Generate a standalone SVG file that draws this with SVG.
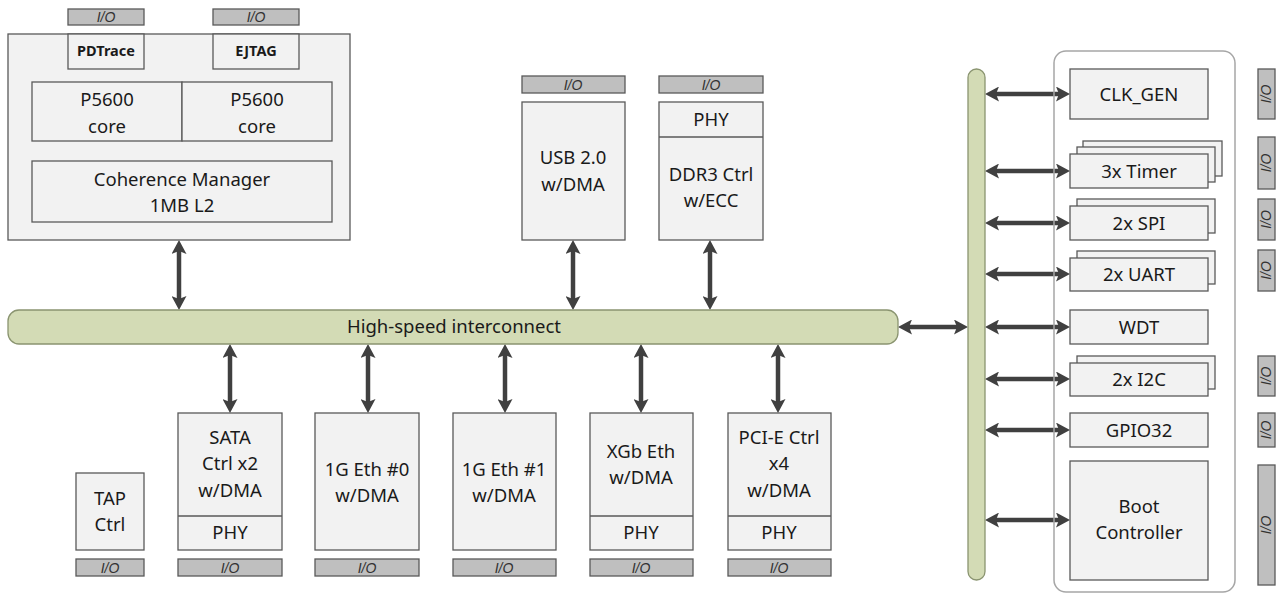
<svg xmlns="http://www.w3.org/2000/svg" width="1279" height="594" viewBox="0 0 1279 594">
<defs>
<style>
.box{fill:#f2f2f2;stroke:#595959;stroke-width:1.3}
.outer{fill:#f2f2f2;stroke:#595959;stroke-width:1.3}
.io{fill:#bfbfbf;stroke:#595959;stroke-width:1.3}
.bus{fill:#d3dbb5;stroke:#8a9470;stroke-width:1.3}
.cont{fill:none;stroke:#a6a6a6;stroke-width:1.5}
.t{font-family:"Noto Sans","Open Sans",sans-serif;font-size:18.5px;fill:#1a1a1a;text-anchor:middle}
.b{font-family:"Noto Sans","Open Sans",sans-serif;font-size:14.5px;font-weight:bold;fill:#1a1a1a;text-anchor:middle}
.iot{font-family:"Liberation Sans","Open Sans",sans-serif;font-size:14px;font-style:italic;fill:#333;text-anchor:middle}
.ar{stroke:#404040;stroke-width:4.5;fill:none;marker-start:url(#ah);marker-end:url(#ah)}
</style>
<marker id="ah" markerUnits="userSpaceOnUse" viewBox="0 0 14 15" markerWidth="14" markerHeight="15" refX="5" refY="7.5" orient="auto-start-reverse">
<path d="M0,0 L14,7.5 L0,15 L3,7.5 z" fill="#404040"/>
</marker>
</defs>

<g id="connectors">
<line class="ar" x1="179" y1="249" x2="179" y2="301"/>
<line class="ar" x1="573" y1="249" x2="573" y2="301"/>
<line class="ar" x1="710" y1="249" x2="710" y2="301"/>
<line class="ar" x1="230" y1="353" x2="230" y2="404"/>
<line class="ar" x1="368" y1="353" x2="368" y2="404"/>
<line class="ar" x1="505" y1="353" x2="505" y2="404"/>
<line class="ar" x1="641" y1="353" x2="641" y2="404"/>
<line class="ar" x1="778" y1="353" x2="778" y2="404"/>
<line class="ar" x1="907" y1="327" x2="959" y2="327"/>
<line class="ar" x1="994" y1="94" x2="1061" y2="94"/>
<line class="ar" x1="994" y1="171" x2="1061" y2="171"/>
<line class="ar" x1="994" y1="223" x2="1061" y2="223"/>
<line class="ar" x1="994" y1="274" x2="1061" y2="274"/>
<line class="ar" x1="994" y1="327" x2="1061" y2="327"/>
<line class="ar" x1="994" y1="379" x2="1061" y2="379"/>
<line class="ar" x1="994" y1="430" x2="1061" y2="430"/>
<line class="ar" x1="994" y1="520" x2="1061" y2="520"/>
</g>

<g id="cpu-cluster">
<rect class="outer" x="8" y="34" width="342" height="206"/>
<rect class="io" x="68" y="9" width="76" height="16"/>
<text class="iot" x="106" y="22">I/O</text>
<rect class="io" x="213" y="9" width="86" height="16"/>
<text class="iot" x="256" y="22">I/O</text>
<rect class="box" x="68" y="34" width="76" height="35"/>
<text class="b" x="106" y="56">PDTrace</text>
<rect class="box" x="213" y="34" width="86" height="35"/>
<text class="b" x="256" y="56">EJTAG</text>
<rect class="box" x="32" y="82" width="150" height="59"/>
<text class="t" x="107" y="106">P5600</text>
<text class="t" x="107" y="133">core</text>
<rect class="box" x="182" y="82" width="150" height="59"/>
<text class="t" x="257" y="106">P5600</text>
<text class="t" x="257" y="133">core</text>
<rect class="box" x="32" y="161" width="300" height="61"/>
<text class="t" x="182" y="186">Coherence Manager</text>
<text class="t" x="182" y="212">1MB L2</text>
</g>

<g id="usb">
<rect class="io" x="522" y="76" width="103" height="17"/>
<text class="iot" x="573" y="90">I/O</text>
<rect class="box" x="522" y="102" width="103" height="138"/>
<text class="t" x="573" y="164">USB 2.0</text>
<text class="t" x="573" y="191">w/DMA</text>
</g>

<g id="ddr3">
<rect class="io" x="659" y="76" width="104" height="17"/>
<text class="iot" x="711" y="90">I/O</text>
<rect class="box" x="659" y="102" width="104" height="138"/>
<line x1="659" y1="137" x2="763" y2="137" stroke="#595959" stroke-width="1.3"/>
<text class="t" x="711" y="126">PHY</text>
<text class="t" x="711" y="181">DDR3 Ctrl</text>
<text class="t" x="711" y="207">w/ECC</text>
</g>

<g id="interconnect">
<rect class="bus" x="8" y="310" width="890" height="34" rx="11"/>
<text class="t" x="454" y="333">High-speed interconnect</text>
</g>

<g id="tap">
<rect class="box" x="76" y="473" width="68" height="77"/>
<text class="t" x="110" y="505">TAP</text>
<text class="t" x="110" y="531">Ctrl</text>
<rect class="io" x="76" y="559" width="68" height="17"/>
<text class="iot" x="110" y="573">I/O</text>
</g>

<g id="sata">
<rect class="box" x="178" y="413" width="104" height="137"/>
<line x1="178" y1="516" x2="282" y2="516" stroke="#595959" stroke-width="1.3"/>
<text class="t" x="230" y="444">SATA</text>
<text class="t" x="230" y="470">Ctrl x2</text>
<text class="t" x="230" y="497">w/DMA</text>
<text class="t" x="230" y="539">PHY</text>
<rect class="io" x="178" y="559" width="104" height="17"/>
<text class="iot" x="230" y="573">I/O</text>
</g>

<g id="eth0">
<rect class="box" x="315" y="413" width="104" height="137"/>
<text class="t" x="367" y="476">1G Eth #0</text>
<text class="t" x="367" y="502">w/DMA</text>
<rect class="io" x="315" y="559" width="104" height="17"/>
<text class="iot" x="367" y="573">I/O</text>
</g>

<g id="eth1">
<rect class="box" x="453" y="413" width="103" height="137"/>
<text class="t" x="504" y="476">1G Eth #1</text>
<text class="t" x="504" y="502">w/DMA</text>
<rect class="io" x="453" y="559" width="103" height="17"/>
<text class="iot" x="504" y="573">I/O</text>
</g>

<g id="xgb">
<rect class="box" x="590" y="413" width="103" height="137"/>
<line x1="590" y1="516" x2="693" y2="516" stroke="#595959" stroke-width="1.3"/>
<text class="t" x="641" y="458">XGb Eth</text>
<text class="t" x="641" y="484">w/DMA</text>
<text class="t" x="641" y="539">PHY</text>
<rect class="io" x="590" y="559" width="103" height="17"/>
<text class="iot" x="641" y="573">I/O</text>
</g>

<g id="pcie">
<rect class="box" x="728" y="413" width="103" height="137"/>
<line x1="728" y1="516" x2="831" y2="516" stroke="#595959" stroke-width="1.3"/>
<text class="t" x="779" y="444">PCI-E Ctrl</text>
<text class="t" x="779" y="470">x4</text>
<text class="t" x="779" y="497">w/DMA</text>
<text class="t" x="779" y="539">PHY</text>
<rect class="io" x="728" y="559" width="103" height="17"/>
<text class="iot" x="779" y="573">I/O</text>
</g>

<g id="peripheral-bus">
<rect class="bus" x="968" y="69" width="17" height="511" rx="8.5"/>
</g>

<g id="peripheral-container">
<rect class="cont" x="1054" y="51" width="181" height="541" rx="12"/>
</g>

<g id="clk-gen">
<rect class="box" x="1070" y="69" width="138" height="50"/>
<text class="t" x="1139" y="101">CLK_GEN</text>
</g>

<g id="timer">
<rect class="box" x="1083" y="141" width="139" height="35"/>
<rect class="box" x="1077" y="147" width="138" height="35"/>
<rect class="box" x="1070" y="154" width="138" height="34"/>
<text class="t" x="1139" y="178">3x Timer</text>
</g>

<g id="spi">
<rect class="box" x="1077" y="199" width="138" height="34"/>
<rect class="box" x="1070" y="206" width="138" height="34"/>
<text class="t" x="1139" y="230">2x SPI</text>
</g>

<g id="uart">
<rect class="box" x="1077" y="251" width="138" height="33"/>
<rect class="box" x="1070" y="258" width="138" height="33"/>
<text class="t" x="1139" y="281">2x UART</text>
</g>

<g id="wdt">
<rect class="box" x="1070" y="310" width="138" height="34"/>
<text class="t" x="1139" y="334">WDT</text>
</g>

<g id="i2c">
<rect class="box" x="1077" y="356" width="138" height="33"/>
<rect class="box" x="1070" y="363" width="138" height="33"/>
<text class="t" x="1139" y="386">2x I2C</text>
</g>

<g id="gpio">
<rect class="box" x="1070" y="413" width="138" height="34"/>
<text class="t" x="1139" y="437">GPIO32</text>
</g>

<g id="boot">
<rect class="box" x="1070" y="461" width="138" height="119"/>
<text class="t" x="1139" y="513">Boot</text>
<text class="t" x="1139" y="539">Controller</text>
</g>

<g id="right-io">
<rect class="io" x="1258" y="69" width="17" height="50"/>
<text class="iot" transform="translate(1271,94) rotate(-90)">I/O</text>
<rect class="io" x="1258" y="137" width="17" height="52"/>
<text class="iot" transform="translate(1271,163) rotate(-90)">I/O</text>
<rect class="io" x="1258" y="199" width="17" height="41"/>
<text class="iot" transform="translate(1271,219.5) rotate(-90)">I/O</text>
<rect class="io" x="1258" y="250" width="17" height="41"/>
<text class="iot" transform="translate(1271,270.5) rotate(-90)">I/O</text>
<rect class="io" x="1258" y="356" width="17" height="40"/>
<text class="iot" transform="translate(1271,376) rotate(-90)">I/O</text>
<rect class="io" x="1258" y="413" width="17" height="34"/>
<text class="iot" transform="translate(1271,430) rotate(-90)">I/O</text>
<rect class="io" x="1258" y="465" width="17" height="120"/>
<text class="iot" transform="translate(1271,525) rotate(-90)">I/O</text>
</g>
</svg>
